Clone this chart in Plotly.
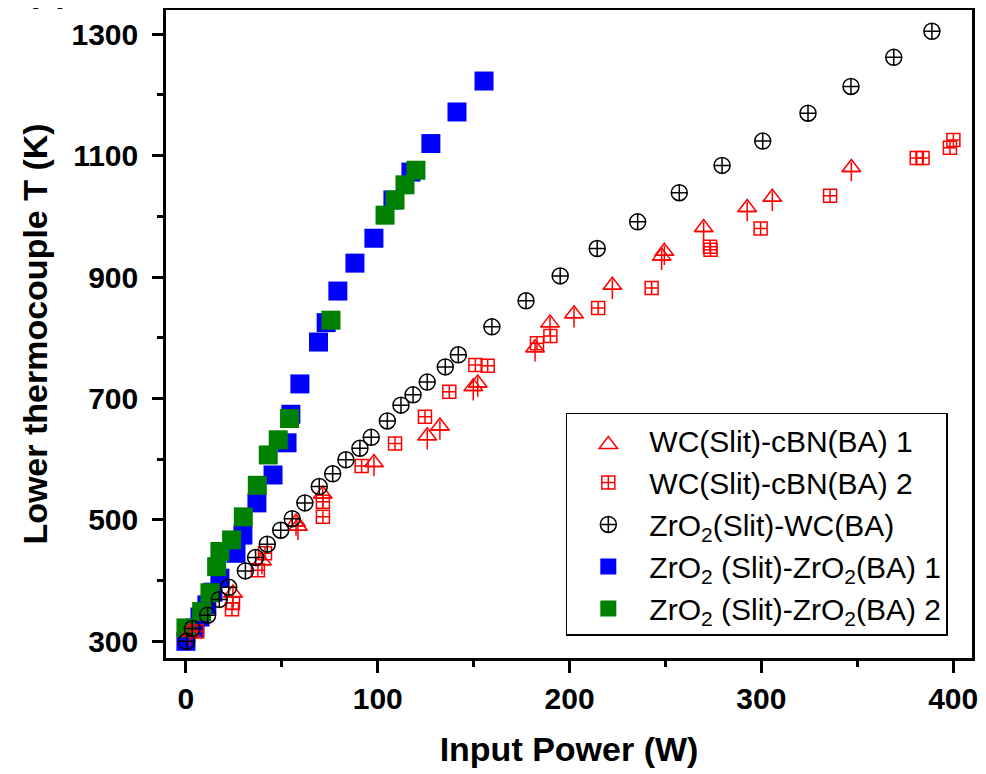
import plotly.graph_objects as go

# ---------------- data ----------------
wc1_power = [2.1, 24.5, 39.6, 57.4, 58.4, 71.3, 98.0, 125.8, 132.4, 149.8, 152.1,
             182.0, 189.8, 202.3, 222.3, 248.0, 249.4, 269.9, 292.6, 305.7, 346.9]
wc1_temp = [309, 373, 426, 490, 483, 536, 588, 632, 648, 713, 719,
            777, 818, 833, 880, 928, 936, 975, 1008, 1025, 1074]

wc2_power = [5.7, 24.0, 24.5, 37.5, 41.2, 71.4, 71.4, 91.6, 109.0, 124.6, 137.3,
             150.9, 157.3, 183.0, 190.0, 214.9, 242.8, 273.2, 273.5, 299.6,
             335.8, 381.0, 384.0, 398.3, 400.1]
wc2_temp = [316, 353, 363, 417, 445, 505, 530, 589, 626, 670, 711,
            755, 754, 791, 803, 849, 882, 950, 945, 980,
            1034, 1096, 1096, 1113, 1126]

zw_power = [0.4, 3.3, 11.3, 17.4, 22.3, 31.0, 36.3, 42.4, 49.4, 55.4, 62.0, 69.5,
            76.5, 83.4, 90.7, 96.6, 105.0, 112.1, 118.4, 125.8, 135.2, 142.0,
            159.5, 177.3, 195.1, 214.4, 235.5, 257.2, 279.5, 300.7, 324.3,
            346.7, 369.0, 388.9]
zw_temp = [300, 321, 343, 369, 389, 416, 438, 460, 483, 502, 528, 555,
           576, 599, 618, 636, 663, 689, 706, 727, 752, 772,
           818, 861, 902, 947, 991, 1039, 1084, 1124, 1170,
           1214, 1262, 1305]

zz1_power = [0.0, 4.7, 7.3, 10.9, 14.1, 17.7, 26.1, 29.7, 37.0, 45.4, 52.7, 54.7,
             59.4, 69.1, 73.1, 79.2, 88.1, 98.0, 107.9, 117.3, 127.7, 141.3, 155.4]
zz1_temp = [300, 322, 340, 360, 381, 404, 445, 475, 528, 574, 627, 674,
            724, 793, 825, 877, 923, 964, 1027, 1073, 1120, 1172, 1223]

zz2_power = [0.0, 8.2, 12.5, 16.0, 17.7, 23.8, 29.9, 37.2, 42.9, 48.1, 54.0,
             75.6, 103.8, 109.0, 114.2, 119.9]
zz2_temp = [322, 349, 380, 423, 448, 467, 505, 557, 607, 632, 667,
            829, 1002, 1027, 1052, 1076]

x_ticks = [0, 100, 200, 300, 400]
y_ticks = [300, 500, 700, 900, 1100, 1300]

FONT = "Liberation Sans, Arial, sans-serif"

fig = go.Figure()

fig.add_trace(go.Scatter(
    x=zz1_power, y=zz1_temp, mode="markers", name="ZrO<sub>2</sub> (Slit)-ZrO<sub>2</sub>(BA) 1",
    marker=dict(symbol="square", size=19, color="#0000FF", line=dict(width=0)),
    legendrank=4))
fig.add_trace(go.Scatter(
    x=zz2_power, y=zz2_temp, mode="markers", name="ZrO<sub>2</sub> (Slit)-ZrO<sub>2</sub>(BA) 2",
    marker=dict(symbol="square", size=19, color="#008000", line=dict(width=0)),
    legendrank=5))
fig.add_trace(go.Scatter(
    x=wc1_power, y=wc1_temp, mode="markers", name="WC(Slit)-cBN(BA) 1",
    marker=dict(symbol="triangle-down-open", angle=180, size=16, color="#FF0000", standoff=4,
                line=dict(width=1.5, color="#FF0000")),
    legendrank=1))
fig.add_trace(go.Scatter(
    x=wc1_power, y=wc1_temp, mode="markers", showlegend=False, hoverinfo="skip",
    marker=dict(symbol="cross-thin-open", size=14, color="#FF0000",
                line=dict(width=1.5, color="#FF0000"))))
fig.add_trace(go.Scatter(
    x=wc2_power, y=wc2_temp, mode="markers", name="WC(Slit)-cBN(BA) 2",
    marker=dict(symbol="square-cross-open", size=13, color="#FF0000",
                line=dict(width=1.5, color="#FF0000")),
    legendrank=2))
fig.add_trace(go.Scatter(
    x=zw_power, y=zw_temp, mode="markers", name="ZrO<sub>2</sub>(Slit)-WC(BA)",
    marker=dict(symbol="circle-cross-open", size=16, color="#000000",
                line=dict(width=1.5, color="#000000")),
    legendrank=3))

axis_common = dict(
    showline=True, linewidth=2.5, linecolor="black", mirror=True,
    ticks="outside", tickwidth=2.5, tickcolor="black",
    showgrid=False, zeroline=False, automargin=False,
    tickfont=dict(family=FONT, size=30, color="black", weight="bold"),
)

fig.update_xaxes(
    range=[-10.4, 409.8], tickvals=x_ticks, ticklen=12,
    minor=dict(dtick=50, tick0=0, ticks="outside", ticklen=6, tickwidth=2.5, tickcolor="black"),
    title=dict(text="Input Power (W)", standoff=24,
               font=dict(family=FONT, size=34, color="black", weight="bold")),
    **axis_common)
fig.update_yaxes(
    range=[272.5, 1340], tickvals=y_ticks, ticklen=11, ticklabelstandoff=8,
    minor=dict(dtick=100, tick0=300, ticks="outside", ticklen=6, tickwidth=2.5, tickcolor="black"),
    title=dict(text="Lower thermocouple T (K)", standoff=14,
               font=dict(family=FONT, size=34, color="black", weight="bold")),
    **axis_common)

fig.update_layout(
    width=986, height=774,
    margin=dict(l=158, r=22, t=2, b=124, autoexpand=False),
    plot_bgcolor="white", paper_bgcolor="white",
    legend=dict(
        x=0.970, y=0.034, xanchor="right", yanchor="bottom",
        bgcolor="white", bordercolor="black", borderwidth=1.5,
        font=dict(family=FONT, size=30, color="black"),
        tracegroupgap=0, itemwidth=72,
    ),
    annotations=[dict(
        text="(a)", xref="paper", yref="paper", x=-0.146, y=1.031,
        xanchor="center", yanchor="middle", showarrow=False,
        font=dict(family=FONT, size=34, color="black", weight="bold"))],
)

fig.write_html("out.html")
